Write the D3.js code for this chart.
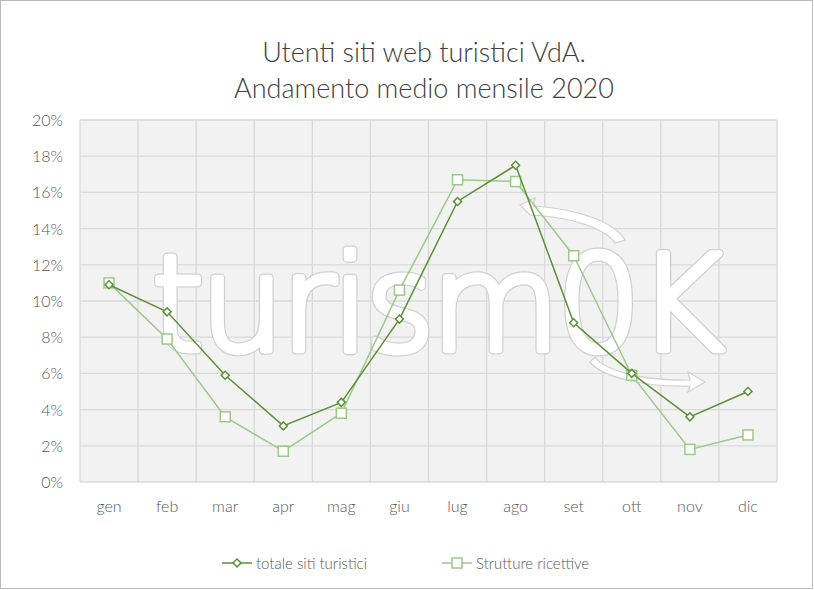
<!DOCTYPE html>
<html><head><meta charset="utf-8">
<script src="https://cdn.jsdelivr.net/npm/d3@7"></script>
<style>body{margin:0;background:#fff}text{font-family:Lato,"Open Sans",sans-serif}</style>
</head><body><svg width="814" height="590"></svg>
<script>
const months = ["gen","feb","mar","apr","mag","giu","lug","ago","set","ott","nov","dic"];
const totale = [10.9, 9.4, 5.9, 3.1, 4.4, 9.0, 15.5, 17.5, 8.8, 6.0, 3.6, 5.0];
const strutture = [11.0, 7.9, 3.6, 1.7, 3.8, 10.6, 16.7, 16.6, 12.5, 5.9, 1.8, 2.6];
const yTicks = [0, 2, 4, 6, 8, 10, 12, 14, 16, 18, 20];

const svg = d3.select("svg");
svg.append("rect").attr("x", 0.5).attr("y", 0.5).attr("width", 812).attr("height", 588)
    .attr("fill", "#fff").attr("stroke", "#bbb");

const m = {left: 80, right: 777, top: 120, bottom: 482};
const x = d3.scaleBand().domain(months).range([m.left, m.right]);
const y = d3.scaleLinear().domain([0, 20]).range([m.bottom, m.top]);

svg.append("rect").attr("x", m.left).attr("y", m.top)
    .attr("width", m.right - m.left).attr("height", m.bottom - m.top).attr("fill", "#f2f2f2");

// grid
svg.append("g").selectAll("line").data(yTicks).join("line")
    .attr("x1", m.left).attr("x2", m.right).attr("y1", d => y(d)).attr("y2", d => y(d))
    .attr("stroke", "#d9d9d9").attr("stroke-width", 1.3);
svg.append("g").selectAll("line").data(months.concat(["end"])).join("line")
    .attr("x1", (d, i) => m.left + i * x.bandwidth()).attr("x2", (d, i) => m.left + i * x.bandwidth())
    .attr("y1", m.top).attr("y2", m.bottom)
    .attr("stroke", "#d9d9d9").attr("stroke-width", 1.3);

// watermark: outline drawn as thick grey stroke, then a slightly thinner white stroke on top
const wm = svg.append("g");
wm.append("path").attr("d", "M520,205 L535,198 L533,206 A110,45 0 0,1 625,240 L615,243 A100,38 0 0,0 530,215 Z")
    .attr("fill", "#fff").attr("stroke", "#d0d0d0").attr("stroke-width", 1.2);
wm.append("path").attr("d", "M595,357 A90,30 0 0,0 690,380 L688,372 L705,382 L688,392 L690,386 A95,33 0 0,1 590,362 Z")
    .attr("fill", "#fff").attr("stroke", "#d0d0d0").attr("stroke-width", 1.2);
[["#d0d0d0", 9], ["#fff", 6.5]].forEach(([c, w]) => {
    wm.append("text").attr("x", 152).attr("y", 350)
        .attr("font-size", 132).attr("font-weight", 200)
        .attr("textLength", 572).attr("lengthAdjust", "spacing")
        .attr("fill", "#fff").attr("stroke", c).attr("stroke-width", w).attr("stroke-linejoin", "round")
        .style("font-family", "'DejaVu Sans',sans-serif").text("turism0K");
});

// axes labels
svg.append("g").selectAll("text").data(yTicks).join("text")
    .attr("x", 63).attr("y", d => y(d) + 6).attr("text-anchor", "end")
    .attr("font-size", 16).attr("font-weight", 300).attr("fill", "#595959").text(d => d + "%");
svg.append("g").selectAll("text").data(months).join("text")
    .attr("x", d => x(d) + x.bandwidth() / 2).attr("y", 512).attr("text-anchor", "middle")
    .attr("font-size", 16).attr("font-weight", 300).attr("fill", "#595959").text(d => d);

svg.append("text").attr("x", 424).attr("y", 62).attr("text-anchor", "middle")
    .attr("font-size", 27).attr("font-weight", 300).attr("fill", "#404040").text("Utenti siti web turistici VdA.");
svg.append("text").attr("x", 424).attr("y", 98).attr("text-anchor", "middle")
    .attr("font-size", 27).attr("font-weight", 300).attr("fill", "#404040").text("Andamento medio mensile 2020");

const cx = i => x(months[i]) + x.bandwidth() / 2;
const line = d3.line().x((d, i) => cx(i)).y(d => y(d));
const cLight = "#9cc98a", cDark = "#5b9136";

svg.append("path").datum(strutture).attr("d", line).attr("fill", "none").attr("stroke", cLight).attr("stroke-width", 1.5);
svg.append("g").selectAll("rect").data(strutture).join("rect")
    .attr("x", (d, i) => cx(i) - 5).attr("y", d => y(d) - 5).attr("width", 10).attr("height", 10)
    .attr("fill", "#fff").attr("stroke", cLight).attr("stroke-width", 1.5);

svg.append("path").datum(totale).attr("d", line).attr("fill", "none").attr("stroke", cDark).attr("stroke-width", 1.5);
const diamond = d3.symbol().type(d3.symbolSquare).size(32);
svg.append("g").selectAll("path").data(totale).join("path")
    .attr("d", diamond).attr("transform", (d, i) => `translate(${cx(i)},${y(d)}) rotate(45)`)
    .attr("fill", "#fff").attr("stroke", cDark).attr("stroke-width", 1.5);

// legend
const lg = svg.append("g");
lg.append("line").attr("x1", 222).attr("x2", 252).attr("y1", 563).attr("y2", 563).attr("stroke", cDark).attr("stroke-width", 1.5);
lg.append("path").attr("d", diamond).attr("transform", "translate(237,563) rotate(45)")
    .attr("fill", "#fff").attr("stroke", cDark).attr("stroke-width", 1.5);
lg.append("text").attr("x", 256).attr("y", 569).attr("font-size", 15).attr("font-weight", 300).attr("fill", "#595959").text("totale siti turistici");
lg.append("line").attr("x1", 442).attr("x2", 472).attr("y1", 563).attr("y2", 563).attr("stroke", cLight).attr("stroke-width", 1.5);
lg.append("rect").attr("x", 452).attr("y", 558).attr("width", 10).attr("height", 10)
    .attr("fill", "#fff").attr("stroke", cLight).attr("stroke-width", 1.5);
lg.append("text").attr("x", 476).attr("y", 569).attr("font-size", 15).attr("font-weight", 300).attr("fill", "#595959").text("Strutture ricettive");
</script></body></html>
